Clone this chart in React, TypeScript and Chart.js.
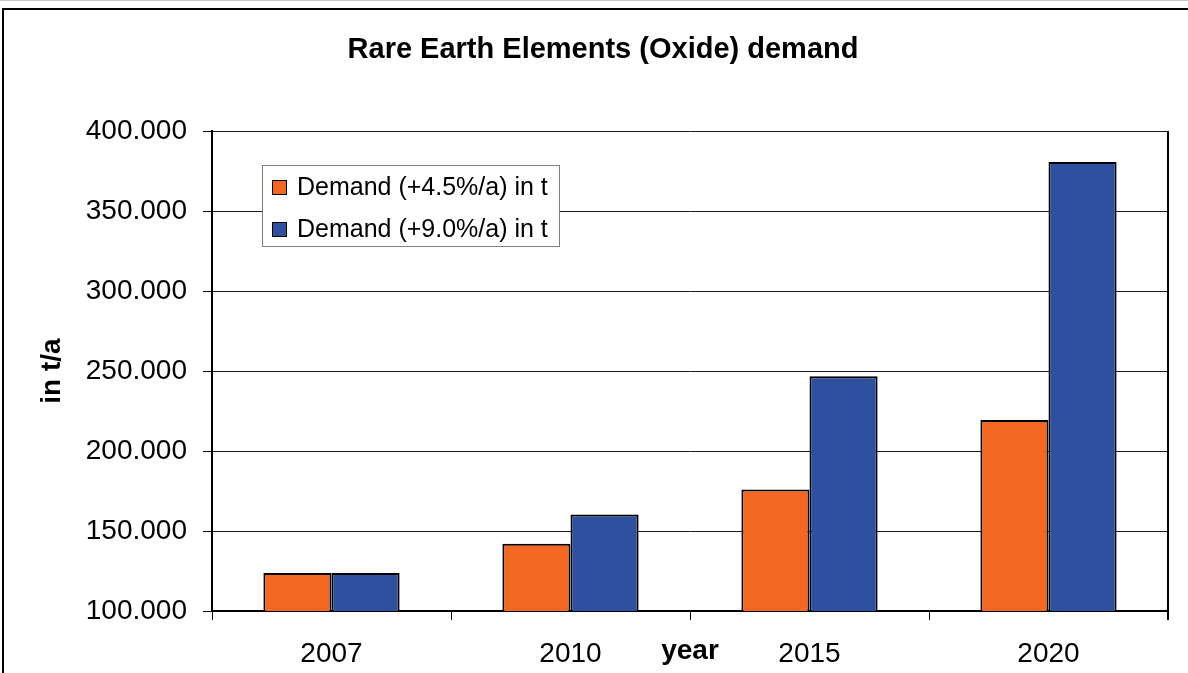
import React, { useEffect, useRef } from 'react';
import { Chart, registerables } from 'chart.js';

Chart.register(...registerables);

const years = ['2007', '2010', '2015', '2020'];
const demandLow = [123800, 142000, 176000, 219400];
const demandHigh = [123800, 160300, 246700, 380600];
const seriesLabels = ['Demand (+4.5%/a) in t', 'Demand (+9.0%/a) in t'];
const seriesColors = ['#F26722', '#2F4F9F'];
const yMin = 100000;
const yMax = 400000;
const yStep = 50000;
const chartTitle = 'Rare Earth Elements (Oxide) demand';
const xTitle = 'year';
const yTitle = 'in t/a';

const FONT = '"Liberation Sans", Arial, sans-serif';

const fmt = (v: number) => {
  const s = Math.round(v).toString();
  return s.replace(/\B(?=(\d{3})+(?!\d))/g, '.');
};

const decorPlugin = {
  id: 'decor',
  beforeDraw(chart: any) {
    const ctx = chart.ctx;
    ctx.save();
    ctx.fillStyle = '#ffffff';
    ctx.fillRect(0, 0, chart.width, chart.height);
    // faint top edge
    ctx.strokeStyle = '#c8c8c8';
    ctx.lineWidth = 1;
    ctx.beginPath();
    ctx.moveTo(0, 0.5);
    ctx.lineTo(chart.width, 0.5);
    ctx.stroke();
    // outer chart frame
    ctx.strokeStyle = '#000';
    ctx.lineWidth = 2;
    ctx.strokeRect(3, 9, chart.width + 100, chart.height + 100);
    // title
    ctx.fillStyle = '#000';
    ctx.font = 'bold 29px ' + FONT;
    ctx.textAlign = 'center';
    ctx.textBaseline = 'alphabetic';
    ctx.fillText(chartTitle, 603, 58);
    ctx.restore();
  },
  afterDraw(chart: any) {
    const ctx = chart.ctx;
    const a = chart.chartArea;
    ctx.save();
    // right border of plot area
    ctx.strokeStyle = '#000';
    ctx.lineWidth = 2;
    ctx.beginPath();
    ctx.moveTo(a.right, a.top);
    ctx.lineTo(a.right, a.bottom + 9);
    ctx.stroke();

    // axis titles
    ctx.fillStyle = '#000';
    ctx.font = 'bold 28px ' + FONT;
    ctx.textAlign = 'center';
    ctx.textBaseline = 'alphabetic';
    ctx.fillText(xTitle, (a.left + a.right) / 2, 659);
    ctx.save();
    ctx.translate(60, (a.top + a.bottom) / 2);
    ctx.rotate(-Math.PI / 2);
    ctx.fillText(yTitle, 0, 0);
    ctx.restore();

    // legend
    const lx = a.left + 50;
    const ly = a.top + 34;
    const lw = 297;
    const lh = 81;
    ctx.fillStyle = '#fff';
    ctx.fillRect(lx, ly, lw, lh);
    ctx.strokeStyle = '#808080';
    ctx.lineWidth = 1;
    ctx.strokeRect(lx + 0.5, ly + 0.5, lw, lh);
    ctx.font = '25px ' + FONT;
    ctx.textAlign = 'left';
    ctx.textBaseline = 'middle';
    chart.data.datasets.forEach((ds: any, i: number) => {
      const cy = ly + 22 + i * 42;
      ctx.fillStyle = ds.backgroundColor;
      ctx.fillRect(lx + 10, cy - 7, 15, 15);
      ctx.strokeStyle = '#000';
      ctx.lineWidth = 1;
      ctx.strokeRect(lx + 10.5, cy - 6.5, 14, 14);
      ctx.fillStyle = '#000';
      ctx.fillText(ds.label, lx + 35, cy + 1);
    });
    ctx.restore();
  },
};

export default function App() {
  const ref = useRef<HTMLCanvasElement | null>(null);

  useEffect(() => {
    if (!ref.current) return;
    const chart = new Chart(ref.current, {
      type: 'bar',
      data: {
        labels: years,
        datasets: [
          {
            label: seriesLabels[0],
            data: demandLow,
            backgroundColor: seriesColors[0],
            borderColor: '#000',
            borderWidth: 2,
            borderSkipped: false,
            categoryPercentage: 0.57,
            barPercentage: 1,
          },
          {
            label: seriesLabels[1],
            data: demandHigh,
            backgroundColor: seriesColors[1],
            borderColor: '#000',
            borderWidth: 2,
            borderSkipped: false,
            categoryPercentage: 0.57,
            barPercentage: 1,
          },
        ],
      },
      options: {
        animation: false,
        responsive: false,
        devicePixelRatio: 1,
        layout: { padding: { top: 131, right: 20, left: 0, bottom: 0 } },
        plugins: {
          legend: { display: false },
          title: { display: false },
          tooltip: { enabled: false },
        },
        scales: {
          x: {
            afterFit: (s: any) => {
              s.height = 62;
            },
            grid: {
              offset: true,
              drawOnChartArea: false,
              drawTicks: true,
              tickLength: 9,
              tickColor: '#000',
              lineWidth: 1,
            },
            border: { display: true, color: '#000', width: 2 },
            ticks: {
              color: '#000',
              padding: 17,
              font: { family: FONT, size: 28 },
            },
          },
          y: {
            min: yMin,
            max: yMax,
            afterFit: (s: any) => {
              s.width = 212;
            },
            grid: {
              color: '#1a1a1a',
              lineWidth: 1,
              tickLength: 9,
              tickColor: '#000',
            },
            border: { display: true, color: '#000', width: 2 },
            ticks: {
              stepSize: yStep,
              color: '#000',
              padding: 16,
              font: { family: FONT, size: 28 },
              callback: (v: any) => fmt(Number(v)),
            },
          },
        },
      },
      plugins: [decorPlugin],
    });
    return () => chart.destroy();
  }, []);

  return (
    <div style={{ position: 'fixed', left: 0, top: 0, width: 1188, height: 673, overflow: 'hidden', background: '#fff' }}>
      <canvas ref={ref} width={1188} height={673} style={{ display: 'block', width: 1188, height: 673 }} />
    </div>
  );
}
